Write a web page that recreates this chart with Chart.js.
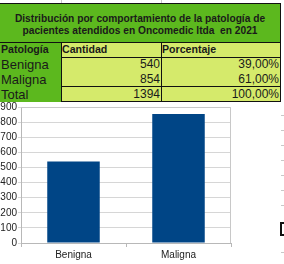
<!DOCTYPE html>
<html>
<head>
<meta charset="utf-8">
<script src="https://cdn.jsdelivr.net/npm/chart.js@4"></script>
<style>
  body { margin:0; width:284px; height:264px; background:#fff; position:relative; overflow:hidden; font-family:"Liberation Sans", Arial, sans-serif; color:#1a1a1a; }
  .c { position:absolute; box-sizing:border-box; white-space:nowrap; }
  .dark { background:#5cb81e; }
  .light { background:#d5ea6b; }
  .num { text-align:right; padding-right:1px; font-size:12px; line-height:15px; }
  .lbl { font-size:13px; line-height:15px; padding-left:1px; }
  .hdr { font-size:10.6px; font-weight:bold; line-height:15px; padding-left:1px; }
  #titulo { left:0; top:3px; width:281px; height:39px; border-top:1px solid #111; border-right:1px solid #111;
    font-size:10.2px; font-weight:bold; text-align:center; line-height:12px; padding-top:9px; }
  .vl { position:absolute; width:1px; background:#111; }
  .hl { position:absolute; height:1px; background:#111; }
  .gg { position:absolute; background:#c8c8c8; }
  #grafico { position:absolute; left:0; top:100px; }
</style>
</head>
<body>
<div class="gg" style="left:61px;top:0;width:1px;height:3px"></div>
<div class="gg" style="left:161px;top:0;width:1px;height:3px"></div>

<div id="titulo" class="c dark">Distribución por comportamiento de la patología de<br>pacientes atendidos en Oncomedic ltda&nbsp; en 2021</div>

<div id="tabla"></div>

<canvas id="grafico" width="232" height="164"></canvas>

<!-- restos de la hoja de cálculo a la derecha -->
<div class="gg" style="left:281px;top:115px;width:3px;height:1px"></div>
<div class="gg" style="left:281px;top:130px;width:3px;height:1px"></div>
<div class="gg" style="left:281px;top:145px;width:3px;height:1px"></div>
<div class="gg" style="left:281px;top:160px;width:3px;height:1px"></div>
<div class="gg" style="left:281px;top:175px;width:3px;height:1px"></div>
<div class="gg" style="left:281px;top:190px;width:3px;height:1px"></div>
<div class="gg" style="left:281px;top:205px;width:3px;height:1px"></div>
<div class="gg" style="left:281px;top:252px;width:3px;height:1px"></div>
<div style="position:absolute;left:280px;top:222px;width:6px;height:14px;box-sizing:border-box;border:2px solid #111"></div>

<script>
const categorias = ['Benigna', 'Maligna'];
const cantidades = [540, 854];
const porcentajes = ['39,00%', '61,00%'];
const total = '1394';
const totalPct = '100,00%';
const encabezados = ['Patología', 'Cantidad', 'Porcentaje'];
const ticksY = [0, 100, 200, 300, 400, 500, 600, 700, 800, 900];

// --- TABLA ---
function armarTabla() {
    const t = document.getElementById('tabla');
    const cols = [[0, 61], [61, 100], [161, 119]];
    let html = '';
    const filas = [encabezados];
    categorias.forEach((c, i) => filas.push([c, String(cantidades[i]), porcentajes[i]]));
    filas.push(['Total', total, totalPct]);

    filas.forEach((f, r) => {
        const top = 42 + r * 15;
        f.forEach((txt, k) => {
            let cls = k === 0 ? 'dark' : 'light';
            let tipo = r === 0 ? 'hdr' : (k === 0 ? 'lbl' : 'num');
            html += `<div class="c ${cls} ${tipo}" style="left:${cols[k][0]}px;top:${top}px;width:${cols[k][1]}px;height:15px">${txt}</div>`;
        });
    });
    // bordes
    html += `<div class="hl" style="left:0;top:42px;width:281px"></div>`;
    html += `<div class="hl" style="left:61px;top:57px;width:220px"></div>`;
    html += `<div class="hl" style="left:61px;top:86px;width:220px"></div>`;
    html += `<div class="hl" style="left:61px;top:101px;width:220px"></div>`;
    html += `<div class="vl" style="left:61px;top:42px;height:60px"></div>`;
    html += `<div class="vl" style="left:161px;top:42px;height:60px"></div>`;
    html += `<div class="vl" style="left:280px;top:3px;height:99px"></div>`;
    t.innerHTML = html;
}
armarTabla();

// marco gris del área de trazado
const marco = {
    id: 'marco',
    afterDatasetsDraw(chart) {
        const a = chart.chartArea, ctx = chart.ctx;
        ctx.save();
        ctx.strokeStyle = '#c8c8c8';
        ctx.lineWidth = 1;
        ctx.beginPath();
        ctx.moveTo(a.left, a.top + 0.5);
        ctx.lineTo(a.right - 0.5, a.top + 0.5);
        ctx.lineTo(a.right - 0.5, a.bottom);
        ctx.stroke();
        ctx.restore();
    }
};

new Chart(document.getElementById('grafico'), {
    type: 'bar',
    data: {
        labels: categorias,
        datasets: [{ data: cantidades, backgroundColor: '#004586', barPercentage: 0.5, categoryPercentage: 1 }]
    },
    options: {
        responsive: false,
        animation: false,
        layout: { padding: { top: 7, right: 1, left: 0, bottom: 0 } },
        plugins: { legend: { display: false }, tooltip: { enabled: false } },
        scales: {
            x: {
                afterFit: s => { s.height = 21; },
                grid: { drawOnChartArea: false, tickLength: 4, color: '#b8b8b8' },
                border: { color: '#b8b8b8' },
                ticks: { color: '#222', padding: 2, font: { family: 'Liberation Sans', size: 10 } }
            },
            y: {
                min: ticksY[0], max: ticksY[ticksY.length - 1],
                afterFit: s => { s.width = 21; },
                afterBuildTicks: s => { s.ticks = ticksY.map(v => ({ value: v })); },
                grid: { color: '#d6d6d6', tickLength: 3 },
                border: { color: '#b8b8b8' },
                ticks: { color: '#222', padding: 1, font: { family: 'Liberation Sans', size: 10 } }
            }
        }
    },
    plugins: [marco]
});
</script>
</body>
</html>
